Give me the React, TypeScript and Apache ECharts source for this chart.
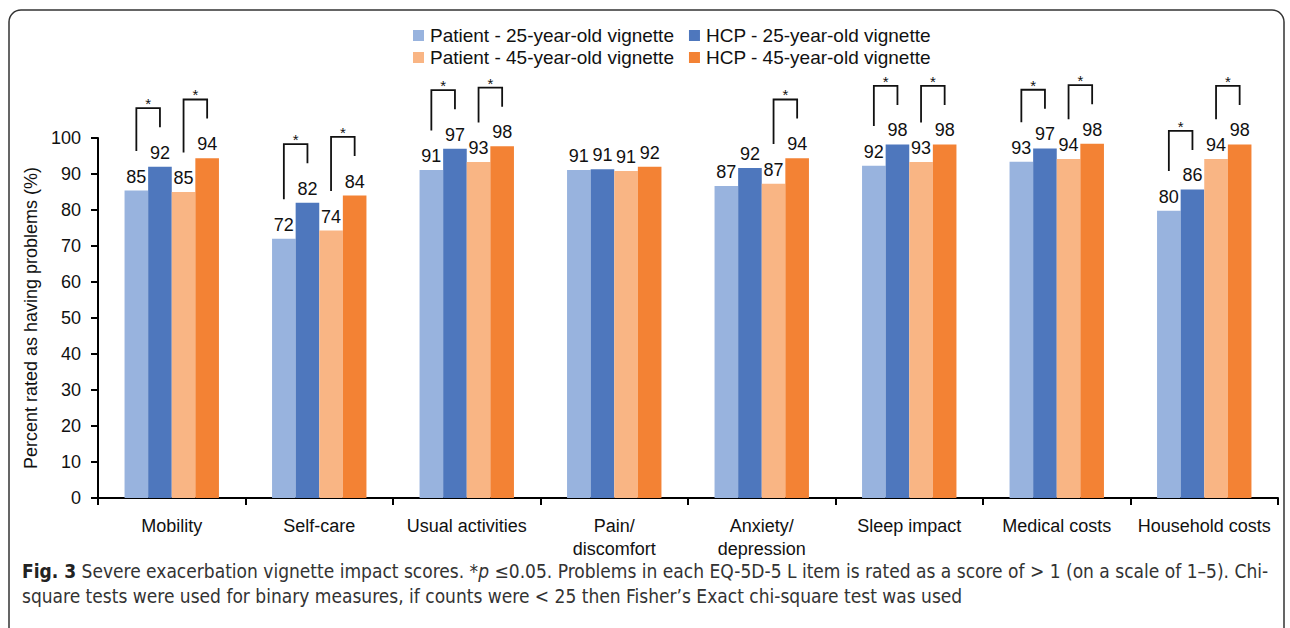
import React, { useEffect, useRef } from "react";
import * as echarts from "echarts";

const categories = [
  "Mobility",
  "Self-care",
  "Usual activities",
  "Pain/\ndiscomfort",
  "Anxiety/\ndepression",
  "Sleep impact",
  "Medical costs",
  "Household costs",
];
const seriesNames = [
  "Patient - 25-year-old vignette",
  "HCP - 25-year-old vignette",
  "Patient - 45-year-old vignette",
  "HCP - 45-year-old vignette",
];
const patient25 = [85.4, 72, 91.1, 91.1, 86.7, 92.3, 93.4, 79.8];
const hcp25 = [92, 82, 97, 91.3, 91.7, 98.2, 97.1, 85.7];
const patient45 = [85, 74.3, 93.3, 90.8, 87.3, 93.3, 94.2, 94.2];
const hcp45 = [94.4, 84, 97.7, 92, 94.4, 98.2, 98.4, 98.2];
// significance (*p <= 0.05) between patient and HCP for each vignette
const sig25 = [true, true, true, false, false, true, true, true];
const sig45 = [true, true, true, false, true, true, true, true];
const yMin = 0;
const yMax = 100;
const yInterval = 10;

const colors = ["#98B3DE", "#4E77BD", "#F9B584", "#F38234"];
const FONT = "Liberation Sans, Arial, sans-serif";
const CAP_FONT = "Liberation Sans Narrow, DejaVu Sans Condensed, sans-serif";
const CAP_SIZE = 19;

export default function App() {
  const ref = useRef<HTMLDivElement>(null);
  useEffect(() => {
    if (!ref.current) return;
    const chart = echarts.init(ref.current, null, { renderer: "svg" });
    const values = [patient25, hcp25, patient45, hcp45];
    const brackets: number[][] = [];
    categories.forEach((_, i) => {
      if (sig25[i]) brackets.push([i, 0, patient25[i], hcp25[i]]);
      if (sig45[i]) brackets.push([i, 1, patient45[i], hcp45[i]]);
    });
    const barCatGap = 0.36;
    const legendBase = {
      left: 413,
      padding: 0,
      itemWidth: 11,
      itemHeight: 11,
      itemGap: 15,
      icon: "rect",
      textStyle: { fontSize: 19, color: "#111", fontFamily: FONT, padding: [0, 0, 0, 1] },
    };
    const option: any = {
      animation: false,
      textStyle: { fontFamily: FONT },
      grid: { left: 98, right: 12, top: 138, bottom: 130, containLabel: false },
      legend: [
        { ...legendBase, data: [seriesNames[0], seriesNames[1]], top: 26 },
        { ...legendBase, data: [seriesNames[2], seriesNames[3]], top: 48 },
      ],
      xAxis: {
        type: "category",
        data: categories,
        axisLine: { lineStyle: { color: "#000", width: 2 } },
        axisTick: { show: true, length: 7, lineStyle: { color: "#000", width: 2 } },
        axisLabel: { fontSize: 18, color: "#111", margin: 16, lineHeight: 23, interval: 0 },
      },
      yAxis: {
        type: "value",
        min: yMin,
        max: yMax,
        interval: yInterval,
        name: "Percent rated as having problems (%)",
        nameLocation: "middle",
        nameGap: 40,
        nameTextStyle: { fontSize: 18, color: "#111" },
        splitLine: { show: false },
        axisLine: { show: true, lineStyle: { color: "#000", width: 2 } },
        axisTick: { show: true, length: 7, lineStyle: { color: "#000", width: 2 } },
        axisLabel: { fontSize: 18, color: "#111", margin: 17 },
      },
      series: [
        ...values.map((v, k) => ({
          name: seriesNames[k],
          type: "bar",
          data: v,
          barGap: "0%",
          barCategoryGap: barCatGap * 100 + "%",
          itemStyle: { color: colors[k] },
          label: {
            show: true,
            position: "top",
            distance: 5,
            fontSize: 18,
            color: "#111",
            formatter: (p: any) => String(Math.round(p.value)),
          },
        })),
        {
          type: "custom",
          name: "sig",
          clip: false,
          silent: true,
          data: brackets,
          encode: { x: 0, y: 2 },
          renderItem: (params: any, api: any) => {
            const cat = api.value(0);
            const pair = api.value(1);
            const vL = api.value(2);
            const vR = api.value(3);
            const center = api.coord([cat, 0]);
            const band = api.size([1, 0])[0];
            const bw = (band * (1 - barCatGap)) / 4;
            const xL = center[0] + (pair === 0 ? -1.5 : 0.5) * bw;
            const xR = xL + bw;
            const yL = api.coord([cat, vL + 11])[1];
            const yR = api.coord([cat, vR + 11])[1];
            const yT = api.coord([cat, Math.max(vL, vR) + 16.3])[1];
            return {
              type: "group",
              children: [
                {
                  type: "polyline",
                  shape: { points: [[xL, yL], [xL, yT], [xR, yT], [xR, yR]] },
                  style: { stroke: "#111", fill: null, lineWidth: 1.8 },
                },
                {
                  type: "text",
                  style: {
                    text: "*",
                    x: (xL + xR) / 2,
                    y: yT - 12,
                    align: "center",
                    verticalAlign: "top",
                    fontSize: 15,
                    fontFamily: FONT,
                    fill: "#111",
                  },
                },
              ],
            };
          },
        },
      ],
      graphic: [
        {
          type: "rect",
          shape: { x: 9, y: 10, width: 1275, height: 640, r: 12 },
          style: { fill: null, stroke: "#333", lineWidth: 1.5 },
          silent: true,
        },
        {
          type: "text",
          left: 22,
          top: 558,
          style: {
            text:
              "{b|Fig. 3} Severe exacerbation vignette impact scores. *{i|p} ≤0.05. Problems in each EQ-5D-5 L item is rated as a score of > 1 (on a scale of 1–5). Chi-\nsquare tests were used for binary measures, if counts were < 25 then Fisher’s Exact chi-square test was used",
            fontSize: CAP_SIZE,
            lineHeight: 25,
            fontFamily: CAP_FONT,
            fill: "#333",
            rich: {
              b: { fontWeight: "bold", fontSize: CAP_SIZE, fill: "#222", fontFamily: CAP_FONT },
              i: { fontStyle: "italic", fontSize: CAP_SIZE, fill: "#333", fontFamily: CAP_FONT },
            },
          },
        },
      ],
    };
    chart.setOption(option);
    return () => chart.dispose();
  }, []);
  return (
    <div
      ref={ref}
      style={{ position: "absolute", left: 0, top: 0, width: 1290, height: 628, background: "#fff" }}
    />
  );
}
